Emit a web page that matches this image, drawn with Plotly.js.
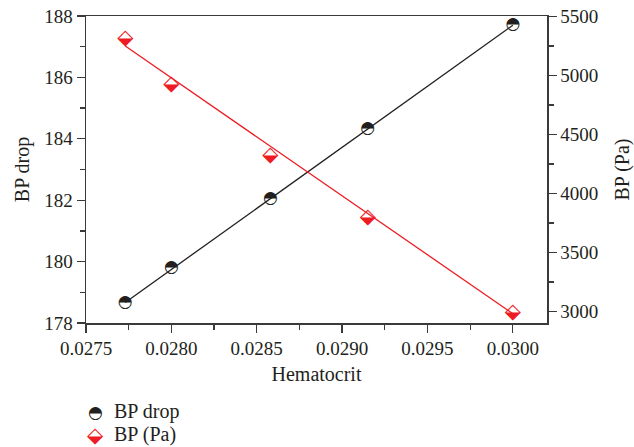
<!DOCTYPE html>
<html>
<head>
<meta charset="utf-8">
<script src="https://cdn.plot.ly/plotly-3.0.1.min.js"></script>
<style>html,body{margin:0;padding:0;background:#fff;}#chart{width:634px;height:447px;}</style>
</head>
<body>
<div id="chart"></div>
<script>
// Data
const hematocrit = [0.02773, 0.02800, 0.02858, 0.02915, 0.03000];
const bpDrop = [178.67, 179.79, 182.04, 184.32, 187.71];
const bpPa = [5315, 4920, 4320, 3795, 2992];
// Linear fit lines (endpoints)
const fitX = [0.02773, 0.03000];
const fitBpDrop = [178.67, 187.70];
const fitBpPa = [5250, 2982];
const xTicks = [0.0275, 0.0280, 0.0285, 0.0290, 0.0295, 0.0300];
const yTicks = [178, 180, 182, 184, 186, 188];
const y2Ticks = [3000, 3500, 4000, 4500, 5000, 5500];
const seriesNames = ['BP drop', 'BP (Pa)'];

const BLACK = '#231f20';
const RED = '#ed1c24';
const AXIS = '#3a3a3a';
const FONT = '"Liberation Serif", "Times New Roman", serif';
const CIRCLE_GLYPH = '\u25D3';
const DIAMOND_GLYPH = '\u2B19';
const CIRCLE_SIZE = 17;
const DIAMOND_SIZE = 21;

const traces = [
  {x: fitX, y: fitBpDrop, mode: 'lines', line: {color: BLACK, width: 1.3}, showlegend: false, hoverinfo: 'skip'},
  {x: fitX, y: fitBpPa, yaxis: 'y2', mode: 'lines', line: {color: RED, width: 1.3}, showlegend: false, hoverinfo: 'skip'},
  {x: hematocrit, y: bpDrop, mode: 'text', text: hematocrit.map(() => CIRCLE_GLYPH), textposition: 'middle center',
   textfont: {family: 'DejaVu Sans', size: CIRCLE_SIZE, color: BLACK}, showlegend: false, name: seriesNames[0]},
  {x: hematocrit, y: bpPa, yaxis: 'y2', mode: 'text', text: hematocrit.map(() => DIAMOND_GLYPH), textposition: 'middle center',
   textfont: {family: 'DejaVu Sans', size: DIAMOND_SIZE, color: RED}, showlegend: false, name: seriesNames[1]}
];

function axisBase() {
  return {
    showgrid: false, zeroline: false, showline: true, linecolor: AXIS, linewidth: 1.5,
    ticks: 'outside', ticklen: 8, tickwidth: 1.3, tickcolor: AXIS,
    tickfont: {family: FONT, size: 19, color: BLACK}
  };
}

const layout = {
  width: 634, height: 447,
  margin: {l: 86, r: 87, t: 16, b: 124},
  paper_bgcolor: '#fff', plot_bgcolor: '#fff',
  showlegend: false,
  font: {family: FONT, color: BLACK, size: 19},
  xaxis: Object.assign(axisBase(), {
    range: [0.0275, 0.0302], tickvals: xTicks, ticktext: xTicks.map(v => v.toFixed(4)),
    mirror: true,
    minor: {tickvals: xTicks.map(v => v + 0.00025), ticklen: 5, tickwidth: 1.3, tickcolor: AXIS, ticks: 'outside'},
    title: {text: 'Hematocrit', font: {family: FONT, size: 20, color: BLACK}, standoff: 8}
  }),
  yaxis: Object.assign(axisBase(), {
    range: [178, 188], tickvals: yTicks,
    minor: {tickvals: yTicks.map(v => v + 1), ticklen: 5, tickwidth: 1.3, tickcolor: AXIS, ticks: 'outside'},
    title: {text: 'BP drop', font: {family: FONT, size: 20, color: BLACK}, standoff: 9}
  }),
  yaxis2: Object.assign(axisBase(), {
    overlaying: 'y', side: 'right', range: [2903, 5505], tickvals: y2Ticks,
    minor: {tickvals: y2Ticks.map(v => v + 250), ticklen: 5, tickwidth: 1.3, tickcolor: AXIS, ticks: 'outside'},
    title: {text: 'BP (Pa)', font: {family: FONT, size: 20, color: BLACK}, standoff: 19}
  }),
  annotations: [
    {xref: 'paper', yref: 'paper', x: (95 - 86) / 461, y: (323 - 412) / 307, text: CIRCLE_GLYPH, showarrow: false,
     font: {family: 'DejaVu Sans', size: CIRCLE_SIZE, color: BLACK}, xanchor: 'center', yanchor: 'middle'},
    {xref: 'paper', yref: 'paper', x: (112 - 86) / 461, y: (323 - 411) / 307, text: seriesNames[0], showarrow: false,
     font: {family: FONT, size: 20, color: BLACK}, xanchor: 'left', yanchor: 'middle'},
    {xref: 'paper', yref: 'paper', x: (95 - 86) / 461, y: (323 - 435) / 307, text: DIAMOND_GLYPH, showarrow: false,
     font: {family: 'DejaVu Sans', size: DIAMOND_SIZE, color: RED}, xanchor: 'center', yanchor: 'middle'},
    {xref: 'paper', yref: 'paper', x: (112 - 86) / 461, y: (323 - 434) / 307, text: seriesNames[1], showarrow: false,
     font: {family: FONT, size: 20, color: BLACK}, xanchor: 'left', yanchor: 'middle'}
  ]
};

Plotly.newPlot('chart', traces, layout, {staticPlot: true, displayModeBar: false});
</script>
</body>
</html>
